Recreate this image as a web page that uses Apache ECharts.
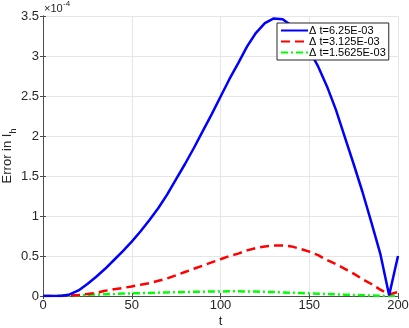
<!DOCTYPE html>
<html>
<head>
<meta charset="utf-8">
<script src="https://cdn.jsdelivr.net/npm/echarts@6/dist/echarts.min.js"></script>
<style>
  html, body { margin: 0; padding: 0; background: #fff; }
  #chart { width: 409px; height: 328px; }
</style>
</head>
<body>
<div id="chart"></div>
<script>
// time steps t
const tValues = [0, 5, 10, 15, 20, 25, 30, 35, 40, 45, 50, 55, 60, 65, 70, 75, 80, 85, 90, 95,
  100, 105, 110, 115, 120, 125, 130, 135, 140, 145, 150, 155, 160, 165, 170, 175, 180, 185, 190, 195, 200];

// error values, in units of 1e-4
const errDt1 = [0, 0, 0, 0.02, 0.07, 0.15, 0.24, 0.34, 0.45, 0.56, 0.68, 0.81, 0.95, 1.1, 1.27, 1.46, 1.65, 1.85, 2.06, 2.27,
  2.49, 2.71, 2.91, 3.12, 3.29, 3.41, 3.47, 3.46, 3.38, 3.24, 3.07, 2.87, 2.62, 2.33, 1.99, 1.65, 1.3, 0.92, 0.53, 0.01, 0.5];
const errDt2 = [0, 0, 0, 0.005, 0.012, 0.025, 0.04, 0.065, 0.085, 0.1, 0.12, 0.14, 0.16, 0.19, 0.22, 0.26, 0.3, 0.34, 0.38, 0.42,
  0.46, 0.5, 0.53, 0.57, 0.6, 0.62, 0.63, 0.63, 0.62, 0.59, 0.555, 0.51, 0.45, 0.4, 0.34, 0.28, 0.21, 0.15, 0.08, 0.02, 0.05];
const errDt3 = [0, 0, 0.003, 0.006, 0.01, 0.014, 0.018, 0.022, 0.026, 0.03, 0.033, 0.036, 0.039, 0.042, 0.045, 0.047, 0.05, 0.052, 0.054, 0.056,
  0.057, 0.058, 0.058, 0.057, 0.055, 0.052, 0.049, 0.045, 0.041, 0.037, 0.033, 0.029, 0.025, 0.021, 0.017, 0.013, 0.009, 0.006, 0.003, 0, 0.003];

const seriesNames = ["Δ t=6.25E-03", "Δ t=3.125E-03", "Δ t=1.5625E-03"];
const xTicks = { min: 0, max: 200, interval: 50 };
const yTicks = { min: 0, max: 3.5, interval: 0.5 };

let chart = echarts.init(document.getElementById("chart"));
let font = "Liberation Sans, Arial, Helvetica, sans-serif";
let axisColor = "#4d4d4d";

function pairs(ys) {
  return tValues.map(function (t, i) {
    return [t, ys[i]];
  });
}

let option = {
  animation: false,
  textStyle: { fontFamily: font },
  grid: { left: 43, right: 11, top: 16, bottom: 32, containLabel: false, outerBoundsMode: "none" },
  legend: {
    orient: "vertical",
    left: 277,
    top: 23,
    backgroundColor: "#fff",
    borderColor: "#262626",
    borderWidth: 1,
    borderRadius: 0,
    padding: [2, 3, 2, 3],
    itemGap: 0,
    itemWidth: 27,
    itemHeight: 10,
    itemStyle: { opacity: 0 },
    textStyle: { fontSize: 11, color: "#000", padding: [0, 0, 0, -4], lineHeight: 10 },
    data: seriesNames,
  },
  graphic: [
    {
      type: "text",
      left: 44,
      top: 3,
      style: { text: "×10", fontSize: 11, fill: "#262626", fontFamily: font },
    },
    {
      type: "text",
      left: 63,
      top: 0,
      style: { text: "-4", fontSize: 8, fill: "#262626", fontFamily: font },
    },
  ],
  xAxis: [
    {
      type: "value",
      min: xTicks.min,
      max: xTicks.max,
      interval: xTicks.interval,
      name: "t",
      nameLocation: "middle",
      nameGap: 19,
      nameMoveOverlap: false,
      nameTextStyle: { fontSize: 13, color: "#262626" },
      axisLine: { show: true, lineStyle: { color: axisColor, width: 1 } },
      axisTick: { show: true, inside: true, length: 3, lineStyle: { color: axisColor } },
      axisLabel: { fontSize: 13, color: "#262626", margin: 3, showMaxLabel: true, showMinLabel: true },
      splitLine: { show: true, lineStyle: { color: "#e6e6e6", width: 1 } },
    },
    {
      type: "value",
      position: "top",
      min: xTicks.min,
      max: xTicks.max,
      interval: xTicks.interval,
      axisLine: { show: true, lineStyle: { color: axisColor, width: 1 } },
      axisTick: { show: true, inside: true, length: 3, lineStyle: { color: axisColor } },
      axisLabel: { show: false },
      splitLine: { show: false },
    },
  ],
  yAxis: [
    {
      type: "value",
      min: yTicks.min,
      max: yTicks.max,
      interval: yTicks.interval,
      name: "{m|Error in I}{s|h}",
      nameLocation: "middle",
      nameGap: 24,
      nameMoveOverlap: false,
      nameTextStyle: {
        fontSize: 13,
        color: "#262626",
        rich: {
          m: { fontSize: 13, color: "#262626", lineHeight: 14, verticalAlign: "top" },
          s: { fontSize: 9, color: "#262626", lineHeight: 18, verticalAlign: "top", padding: [8, 0, 0, 0] },
        },
      },
      axisLine: { show: true, lineStyle: { color: axisColor, width: 1 } },
      axisTick: { show: true, inside: true, length: 3, lineStyle: { color: axisColor } },
      axisLabel: { fontSize: 13, color: "#262626", margin: 4 },
      splitLine: { show: true, lineStyle: { color: "#e6e6e6", width: 1 } },
    },
    {
      type: "value",
      position: "right",
      min: yTicks.min,
      max: yTicks.max,
      interval: yTicks.interval,
      axisLine: { show: true, lineStyle: { color: axisColor, width: 1 } },
      axisTick: { show: true, inside: true, length: 3, lineStyle: { color: axisColor } },
      axisLabel: { show: false },
      splitLine: { show: false },
    },
  ],
  series: [
    {
      name: seriesNames[0],
      type: "line",
      symbol: "none",
      lineStyle: { color: "#0000ff", width: 2.5 },
      itemStyle: { color: "#0000ff" },
      data: pairs(errDt1),
      z: 3,
    },
    {
      name: seriesNames[1],
      type: "line",
      symbol: "none",
      lineStyle: { color: "#ff0000", width: 2.5, type: [9, 5] },
      itemStyle: { color: "#ff0000" },
      data: pairs(errDt2),
      z: 2,
    },
    {
      name: seriesNames[2],
      type: "line",
      symbol: "none",
      lineStyle: { color: "#00ff00", width: 2.5, type: [7, 3, 2, 3] },
      itemStyle: { color: "#00ff00" },
      data: pairs(errDt3),
      z: 1,
    },
  ],
};

chart.setOption(option, true);
window.addEventListener("resize", function () {
  chart.resize();
});
</script>
</body>
</html>
